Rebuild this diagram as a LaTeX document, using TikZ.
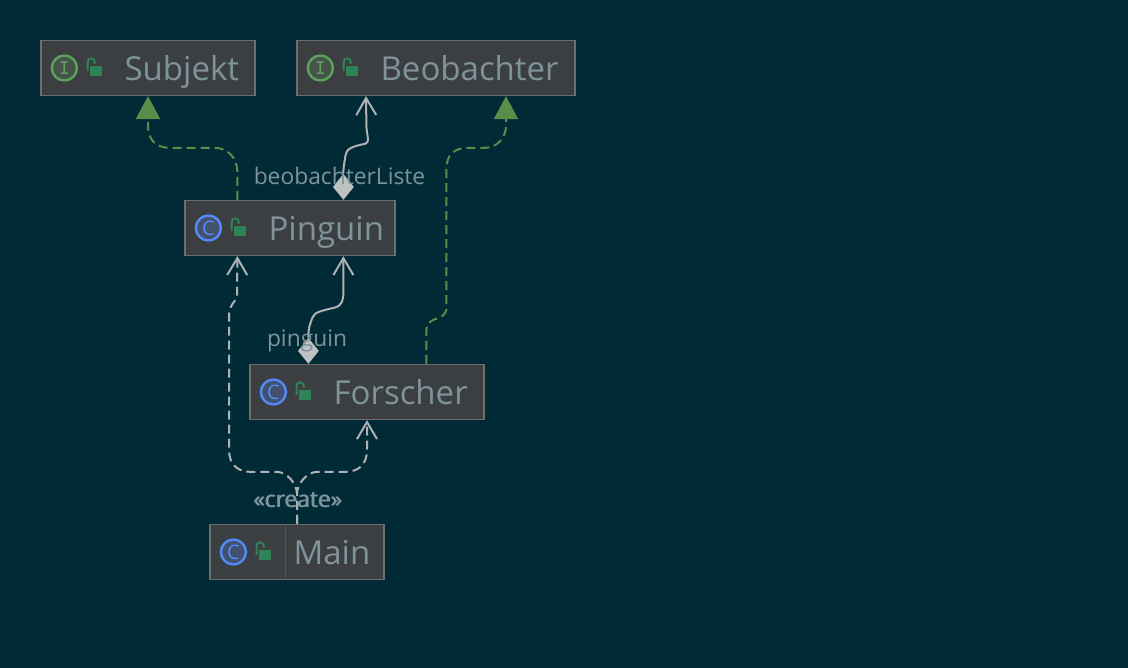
\documentclass[tikz,border=0pt]{standalone}
\usepackage{fontspec}
\setmainfont{Open Sans}
\usetikzlibrary{calc,positioning,arrows.meta,shapes.geometric}
\definecolor{bggrund}{HTML}{002B36}
\definecolor{boxfill}{HTML}{3C3F41}
\definecolor{boxline}{HTML}{6E6E6E}
\definecolor{titel}{HTML}{7F939B}
\definecolor{kante}{HTML}{AFB1B3}
\definecolor{erbt}{HTML}{5A8C4A}
\definecolor{schloss}{HTML}{2E8457}
\definecolor{kreisblau}{HTML}{548AF7}
\definecolor{kreisgruen}{HTML}{5FA05F}
\tikzset{
	>={Straight Barb[length=17pt,width=20pt,line width=2pt]},
	umlbox/.style={
		rectangle,
		fill=boxfill,
		draw=boxline, line width=1.2pt,
		minimum height=55pt,
		inner sep=0pt},
	boxtitle/.style={
		anchor=base west,
		inner sep=0pt,
		text=titel,
		font=\fontsize{33}{38}\selectfont},
	edgelabel/.style={
		inner sep=0pt,
		text=titel,
		font=\fontsize{22.8}{27}\selectfont},
	classicon/.style={
		circle, draw=kreisblau, fill=kreisblau!25!boxfill, line width=2.4pt,
		minimum size=25pt, inner sep=0pt,
		text=kreisblau, font=\fontsize{20}{20}\selectfont},
	ifaceicon/.style={
		classicon, draw=kreisgruen, fill=kreisgruen!22!boxfill, text=kreisgruen,
		font=\ttfamily\bfseries\fontsize{21}{21}\selectfont},
	lockbody/.style={
		rectangle, fill=schloss, minimum width=12pt, minimum height=10pt, inner sep=0pt},
	realize/.style={draw=erbt, line width=2pt, dash pattern=on 9pt off 5pt,
		-{Triangle[length=23pt,width=24pt,fill=erbt]}},
	assoc/.style={draw=kante, line width=2pt, ->},
	depend/.style={assoc, dash pattern=on 9pt off 5pt},
	holdsdiamond/.style={
		diamond, aspect=.8, fill=kante!80!white, minimum width=21pt, minimum height=26pt, inner sep=0pt},
}
% lock icon, hung on the west side of a box
\newcommand{\lockon}[2]{
	\node[lockbody] (#1lock) at ([xshift=#2,yshift=-3pt]#1.west) {};
	\draw[schloss, line width=2pt] ([xshift=-2.5pt]#1lock.north west) ++(0,5) -- ++(0,-9)
		arc[start angle=180, end angle=0, radius=3.5pt] -- ++(0,2);
}
\begin{document}
\begin{tikzpicture}[x=1pt,y=-1pt]
	\fill[bggrund] (0,0) rectangle (1128,668);
	\useasboundingbox (0,0) rectangle (1128,668);

	% boxes
	\node[umlbox, minimum width=214pt] (subjekt) at (148,68) {};
	\node[umlbox, minimum width=278pt] (beobachter) at (436,68) {};
	\node[umlbox, minimum width=210pt] (pinguin) at (290,228) {};
	\node[umlbox, minimum width=234pt] (forscher) at (367,392) {};
	\node[umlbox, minimum width=174pt] (main) at (297,552) {};
	\draw[boxline!50!boxfill, line width=1pt] ([xshift=76pt]main.north west) -- ([xshift=76pt]main.south west);

	% icons and titles
	\foreach \boxname/\boxtext/\iconstyle/\iconletter in {subjekt/Subjekt/ifaceicon/I,beobachter/Beobachter/ifaceicon/I,pinguin/Pinguin/classicon/C,forscher/Forscher/classicon/C,main/Main/classicon/C}{
		\node[\iconstyle] (\boxname icon) at ([xshift=24pt]\boxname.west) {\iconletter};
		\lockon{\boxname}{56pt}
		\node[boxtitle] (\boxname title) at ([xshift=84pt,yshift=-12.5pt]\boxname.west) {\boxtext};
	}

	% realizations
	\draw[realize] ([xshift=53pt]pinguin.north west) -- ++(0,-28)
		.. controls ++(0,-14) and ++(12,0) .. ++(-22,-24) -- ++(-45,0)
		.. controls ++(-14,0) and ++(0,14) .. ([yshift=-30pt]subjekt.south) -- (subjekt.south);
	\draw[realize] ([xshift=177pt]forscher.north west) -- ++(0,-34)
		.. controls ++(0,-14) and ++(-3,12) .. ++(20,-20) -- ++(0,-140)
		.. controls ++(0,-16) and ++(-14,0) .. ++(22,-22) -- ++(16,0)
		.. controls ++(14,0) and ++(0,10) .. ([xshift=70pt,yshift=-30pt]beobachter.south) -- ([xshift=70pt]beobachter.south);

	% compositions
	\node[holdsdiamond] (pinguinhold) at ([xshift=159pt,yshift=13pt]pinguin.north west) {};
	\node[holdsdiamond] (forscherhold) at ([xshift=59pt,yshift=13pt]forscher.north west) {};
	\draw[assoc] (pinguinhold.north) .. controls ++(0,-8) and ++(-1,8) .. ++(2,-18)
		.. controls ++(1,-7) and ++(-14,3) .. ++(20,-12)
		.. controls ++(5,-1) and ++(0,8) .. ++(1,-18) -- ([xshift=-70pt]beobachter.south);
	\draw[assoc] (forscherhold.north) .. controls ++(0,-10) and ++(-3,8) .. ++(4,-20)
		.. controls ++(2,-6) and ++(-12,3) .. ++(22,-10)
		.. controls ++(8,-2) and ++(0,8) .. ++(9,-16) -- ([xshift=159pt]pinguin.south west);

	% dependencies
	\draw[depend] (main.north) -- ++(0,-30)
		.. controls ++(0,-10) and ++(10,0) .. ++(-20,-22) -- ++(-26,0)
		.. controls ++(-14,0) and ++(0,14) .. ++(-22,-22) -- ++(0,-130)
		.. controls ++(0,-10) and ++(-8,10) .. ++(8,-22) -- ([xshift=53pt]pinguin.south west);
	\draw[depend] (main.north) -- ++(0,-30)
		.. controls ++(0,-10) and ++(-10,0) .. ++(20,-22) -- ++(28,0)
		.. controls ++(14,0) and ++(0,14) .. ++(22,-22) -- (forscher.south);

	% labels
	\node[edgelabel] (listelabel) at (339.5,176) {beobachterListe};
	\node[edgelabel] (pinguinlabel) at (307,341) {pinguin};
	\node[edgelabel] (createa) at (297.5,500) {«create»};
	\node[edgelabel] (createb) at (298.5,500) {«create»};
\end{tikzpicture}
\end{document}
